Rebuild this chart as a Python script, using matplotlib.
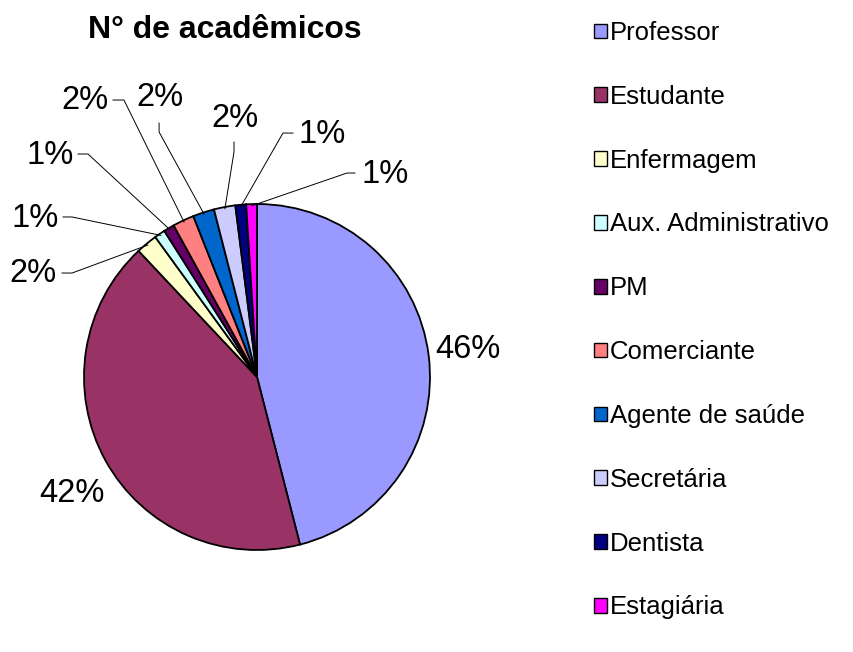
import numpy as np
import matplotlib.pyplot as plt

plt.rcParams['font.family'] = ['Liberation Sans', 'DejaVu Sans']

# data
categories = ['Professor', 'Estudante', 'Enfermagem', 'Aux. Administrativo', 'PM',
              'Comerciante', 'Agente de saúde', 'Secretária', 'Dentista', 'Estagiária']
percent = [46, 42, 2, 1, 1, 2, 2, 2, 1, 1]
colors = ['#9999FF', '#993366', '#FFFFCC', '#CCFFFF', '#660066',
          '#FF8080', '#0066CC', '#CCCCFF', '#000080', '#FF00FF']
title = 'N° de acadêmicos'

# layout of the labels (pie radius = 1, centre = 0,0)
# (text x, text y), (leader start, leader elbow) ; None = no leader
label_layout = [
    ((1.22, 0.16), None),
    ((-1.069, -0.671), None),
    ((-1.295, 0.601), ((-1.127, 0.601), (-1.069, 0.601))),
    ((-1.283, 0.919), ((-1.121, 0.925), (-1.069, 0.925))),
    ((-1.197, 1.283), ((-1.035, 1.289), (-0.977, 1.289))),
    ((-0.994, 1.601), ((-0.832, 1.601), (-0.769, 1.601))),
    ((-0.561, 1.613), ((-0.566, 1.468), (-0.566, 1.416))),
    ((-0.127, 1.497), ((-0.133, 1.358), (-0.133, 1.301))),
    ((0.376, 1.399), ((0.208, 1.410), (0.150, 1.410))),
    ((0.740, 1.168), ((0.566, 1.179), (0.520, 1.179))),
]

W, H = 854, 652
cx, cy, R = 257, 377, 173  # pixel centre and radius

fig = plt.figure(figsize=(W / 100, H / 100), dpi=100)
ax = fig.add_axes([0, 0, 1, 1])

wedges, _ = ax.pie(percent, colors=colors, startangle=90, counterclock=False,
                   radius=1, wedgeprops=dict(edgecolor='black', linewidth=1.3))
ax.set_aspect('auto')
ax.set_xlim(-cx / R, (W - cx) / R)
ax.set_ylim(-(H - cy) / R, cy / R)
ax.axis('off')

for w, p, (txy, lead) in zip(wedges, percent, label_layout):
    ax.text(txy[0], txy[1], '%d%%' % p, fontsize=23.5, ha='center', va='center')
    if lead is not None:
        mid = np.deg2rad((w.theta1 + w.theta2) / 2)
        end = (np.cos(mid) * 0.99, np.sin(mid) * 0.99)
        xs = [lead[0][0], lead[1][0], end[0]]
        ys = [lead[0][1], lead[1][1], end[1]]
        ax.plot(xs, ys, color='black', linewidth=0.7)

fig.text(225 / W, 1 - 30 / H, title, fontsize=23, fontweight='bold',
         ha='center', va='center')

leg = fig.legend(wedges, categories, loc='upper left',
                 bbox_to_anchor=(594 / W, 1 - 21 / H), frameon=False,
                 fontsize=18.5, handlelength=0.5, handleheight=0.5,
                 handletextpad=0.12, labelspacing=1.55, borderpad=0,
                 borderaxespad=0)
for h in leg.legend_handles:
    h.set_linewidth(1.0)

fig.savefig('out.png', dpi=100)
